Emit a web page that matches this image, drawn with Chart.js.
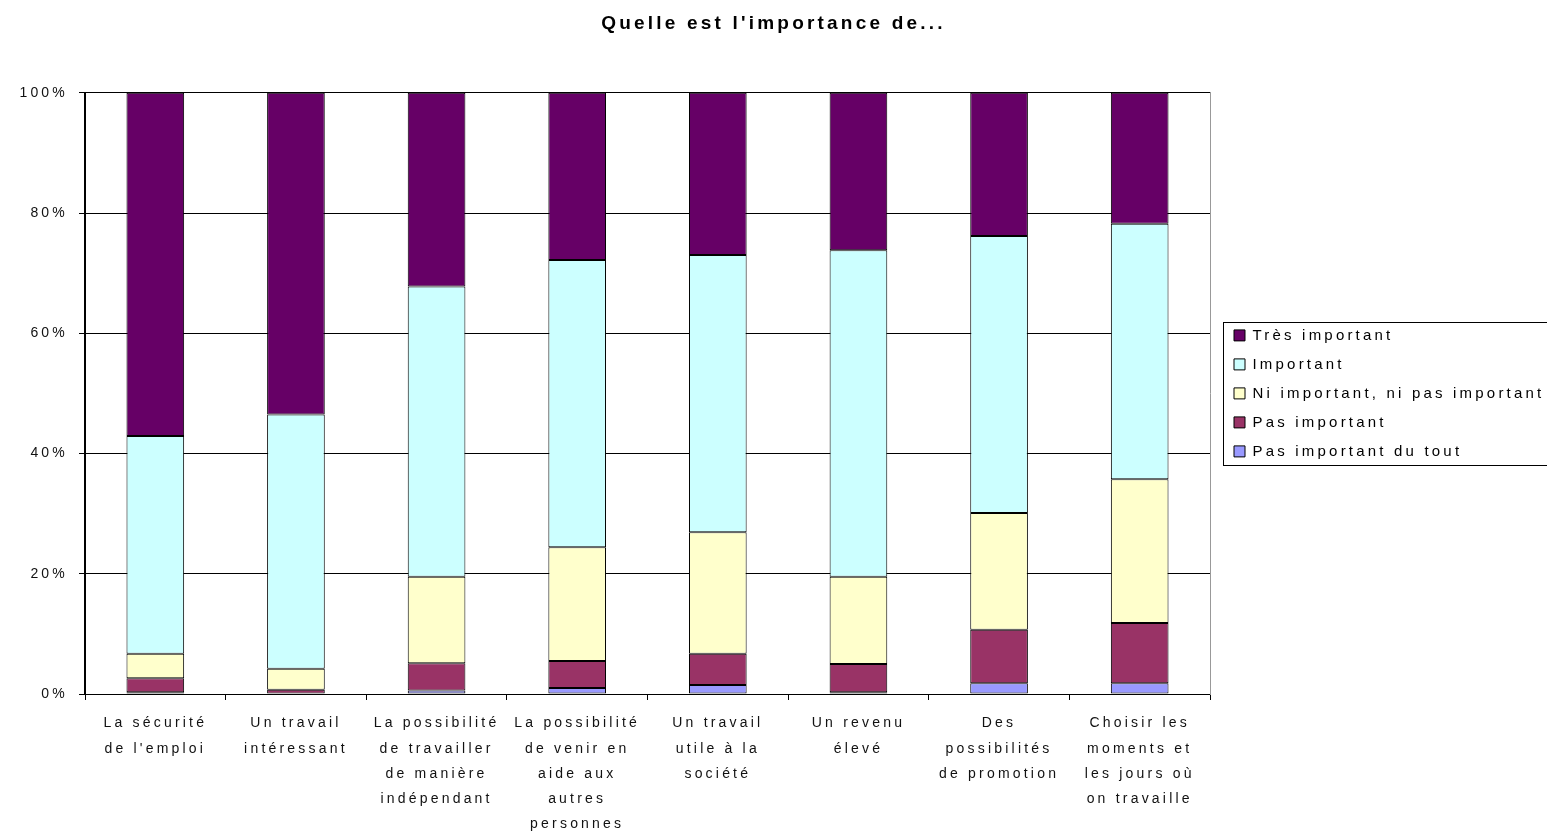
<!DOCTYPE html>
<html>
<head>
<meta charset="utf-8">
<script src="https://cdn.jsdelivr.net/npm/chart.js@4/dist/chart.umd.min.js"></script>
<style>
  html, body { margin: 0; padding: 0; background: #fff; }
  canvas { display: block; }
</style>
</head>
<body>
<canvas id="c" width="1547" height="832"></canvas>
<script>
// ---- Data ----
const titleText = "Quelle est l'importance de...";
const categories = [
  ["La sécurité", "de l'emploi"],
  ["Un travail", "intéressant"],
  ["La possibilité", "de travailler", "de manière", "indépendant"],
  ["La possibilité", "de venir en", "aide aux", "autres", "personnes"],
  ["Un travail", "utile à la", "société"],
  ["Un revenu", "élevé"],
  ["Des", "possibilités", "de promotion"],
  ["Choisir les", "moments et", "les jours où", "on travaille"]
];
const seriesNames = ["Pas important du tout", "Pas important", "Ni important, ni pas important", "Important", "Très important"];
const pasDuTout     = [0.3, 0.1, 0.6, 1.0, 1.5, 0.3, 1.8, 1.8];
const pasImportant  = [2.3, 0.6, 4.5, 4.5, 5.2, 4.7, 8.9, 10.0];
const niNi          = [4.1, 3.5, 14.4, 18.9, 20.2, 14.5, 19.4, 23.9];
const important     = [36.2, 42.3, 48.3, 47.8, 46.1, 54.3, 46.1, 42.5];
const tresImportant = [57.1, 53.5, 32.2, 27.8, 27.0, 26.2, 23.8, 21.8];
const yTicks = [0, 20, 40, 60, 80, 100];

const colors = ["#9999FF", "#993366", "#FFFFCC", "#CCFFFF", "#660066"];
const values = [pasDuTout, pasImportant, niNi, important, tresImportant];

const FONT = "'Liberation Sans', Arial, sans-serif";
const SPACING = '3.2px';

const spacingPlugin = {
  id: 'spacing',
  beforeInit(chart) { chart.ctx.letterSpacing = SPACING; },
  beforeUpdate(chart) { chart.ctx.letterSpacing = SPACING; },
  beforeLayout(chart) { chart.ctx.letterSpacing = SPACING; },
  beforeDraw(chart) { chart.ctx.letterSpacing = SPACING; }
};

const legendBorder = {
  id: 'legendBorder',
  afterDraw(chart) {
    const hb = chart.legend && chart.legend.legendHitBoxes;
    if (!hb || !hb.length) return;
    const ctx = chart.ctx;
    const first = hb[0], last = hb[hb.length - 1];
    const x = Math.round(first.left - 11) + 0.5;
    const y = Math.round(first.top - 6) + 0.5;
    const b = Math.round(last.top + last.height + 6) + 0.5;
    ctx.save();
    ctx.strokeStyle = '#000';
    ctx.lineWidth = 1;
    ctx.strokeRect(x, y, chart.width + 20 - x, b - y);
    ctx.restore();
  }
};

const datasets = seriesNames.map((name, i) => ({
  label: name,
  data: values[i],
  backgroundColor: colors[i],
  borderColor: '#000',
  borderWidth: 1,
  borderSkipped: false,
  categoryPercentage: 1.0,
  barPercentage: 0.41,
  yAxisID: 'y'
}));

new Chart(document.getElementById('c'), {
  type: 'bar',
  data: { labels: categories, datasets },
  plugins: [spacingPlugin, legendBorder],
  options: {
    responsive: false,
    animation: false,
    layout: { padding: { left: 0, right: 0, top: 0, bottom: 0 } },
    plugins: {
      tooltip: { enabled: false },
      title: {
        display: true,
        text: titleText,
        color: '#000',
        font: { family: FONT, size: 19, weight: 'bold' },
        padding: { top: 12, bottom: 58 }
      },
      legend: {
        position: 'right',
        fullSize: false,
        reverse: true,
        maxWidth: 327,
        labels: {
          color: '#000',
          font: { family: FONT, size: 15 },
          boxWidth: 11,
          boxHeight: 11,
          padding: 14
        }
      }
    },
    scales: {
      x: {
        stacked: true,
        offset: true,
        afterFit(scale) { scale.height = 138; },
        grid: { display: true, offset: true, drawOnChartArea: false, drawTicks: true, tickLength: 6, color: '#000' },
        border: { display: true, color: '#000', width: 1 },
        ticks: {
          color: '#111',
          font: { family: FONT, size: 14, lineHeight: 1.8 },
          padding: 11,
          maxRotation: 0,
          autoSkip: false
        }
      },
      y: {
        stacked: true,
        min: 0,
        max: 100,
        afterFit(scale) { scale.width = 85; },
        afterBuildTicks(scale) { scale.ticks = yTicks.map(v => ({ value: v })); },
        grid: { color: '#000', lineWidth: 1, tickLength: 6, drawTicks: true },
        border: { display: true, color: '#000', width: 2 },
        ticks: {
          color: '#111',
          font: { family: FONT, size: 14 },
          padding: 11,
          callback: v => v + '%'
        }
      },
      y2: {
        position: 'right',
        display: true,
        afterFit(scale) { scale.width = 10; },
        grid: { drawOnChartArea: false, drawTicks: false },
        border: { display: true, color: '#999', width: 1 },
        ticks: { display: false }
      }
    }
  }
});
</script>
</body>
</html>
